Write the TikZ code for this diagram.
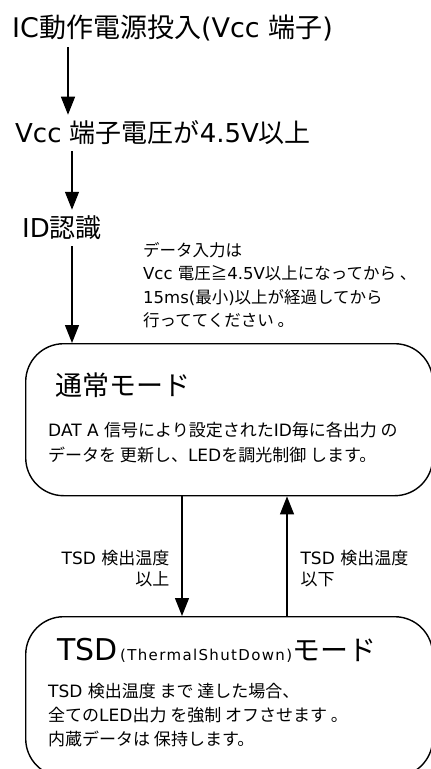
\documentclass[tikz,border=0pt]{standalone}
\usepackage{fontspec}
\setmainfont{Noto Sans CJK JP}
\newfontfamily\latinfont{DejaVu Sans}
\newcommand\latn[1]{{\latinfont #1}}
\usetikzlibrary{arrows.meta, positioning}

\tikzset{
  flow/.style={line width=1.2pt, -{Triangle[width=14pt,length=18pt]}},
  modebox/.style={draw, line width=1.4pt, rounded corners=38pt, minimum width=407pt, minimum height=152pt, inner sep=0pt},
  bigtext/.style={font=\fontsize{27}{30}\selectfont, anchor=west, inner sep=6pt},
  smalltext/.style={font=\fontsize{16.5}{23.5}\selectfont, align=left, inner sep=0pt},
  labeltext/.style={font=\fontsize{17}{21}\selectfont, inner sep=0pt},
}

\begin{document}
\begin{tikzpicture}[x=1pt,y=-1pt]
    \useasboundingbox (0,0) rectangle (431,769);
    \clip (0,0) rectangle (431,769);
    \node[bigtext] (power) at (6,28) {\latn{IC}動作電源投入\latn{(Vcc }端子\latn{)}};
    \node[bigtext, font=\fontsize{26}{30}\selectfont] (vcc) at (9,133) {\latn{Vcc }端子電圧が\latn{4.5V}以上};
    \node[bigtext, font=\fontsize{26}{30}\selectfont] (id) at (16,228) {\latn{ID}認識};
    \node[smalltext, anchor=north west] (note) at (143,242) {データ入力は\\\latn{Vcc }電圧≧\latn{4.5V}以上になってから 、\\\latn{15ms(}最小\latn{)}以上が経過してから\\行っててください 。};
    \node[modebox, anchor=north west] (normal) at (25,343) {};
    \node[modebox, anchor=north west, minimum height=160pt] (tsd) at (25,616) {};
    \node[anchor=west, inner sep=0pt, font=\fontsize{27}{30}\selectfont] (normaltitle) at ([shift={(30,42)}]normal.north west) {通常モード};
    \node[smalltext, anchor=west, font=\fontsize{17}{25}\selectfont] (normalbody) at ([shift={(23,100)}]normal.north west) {\latn{DAT A }信号により設定された\latn{ID}毎に各出力 の\\データを 更新し、\latn{LED}を調光制御 します。};
    \node[anchor=west, inner sep=0pt, font=\fontsize{28}{30}\selectfont] (tsdtitle) at ([shift={(32,34)}]tsd.north west) {{\latinfont\fontsize{30}{30}\selectfont TSD}{\latinfont\fontsize{15}{16}\selectfont\addfontfeature{LetterSpace=9}\,(ThermalShutDown)}モード};
    \node[smalltext, anchor=west, font=\fontsize{17}{24}\selectfont] (tsdbody) at ([shift={(23,99)}]tsd.north west) {\latn{TSD }検出温度 まで 達した場合、\\全ての\latn{LED}出力 を強制 オフさせます 。\\内蔵データは 保持します。};
    \coordinate (col1) at (68,0);
    \coordinate (col2) at (72,0);
    \coordinate (down) at (182,0);
    \coordinate (up) at (287,0);
    \draw[flow] (power.south -| col1) -- (vcc.north -| col1);
    \draw[flow] (vcc.south -| col2) -- (id.north -| col2);
    \draw[flow] (id.south -| col2) -- (normal.north -| col2);
    \draw[flow] (normal.south -| down) -- node[labeltext, align=right, anchor=east, xshift=-12pt, yshift=-12pt] (hotlabel) {\latn{TSD }検出温度\\以上} (tsd.north -| down);
    \draw[flow] (tsd.north -| up) -- node[labeltext, align=left, anchor=west, xshift=13pt, yshift=-12pt] (coollabel) {\latn{TSD }検出温度\\以下} (normal.south -| up);
\end{tikzpicture}
\end{document}
